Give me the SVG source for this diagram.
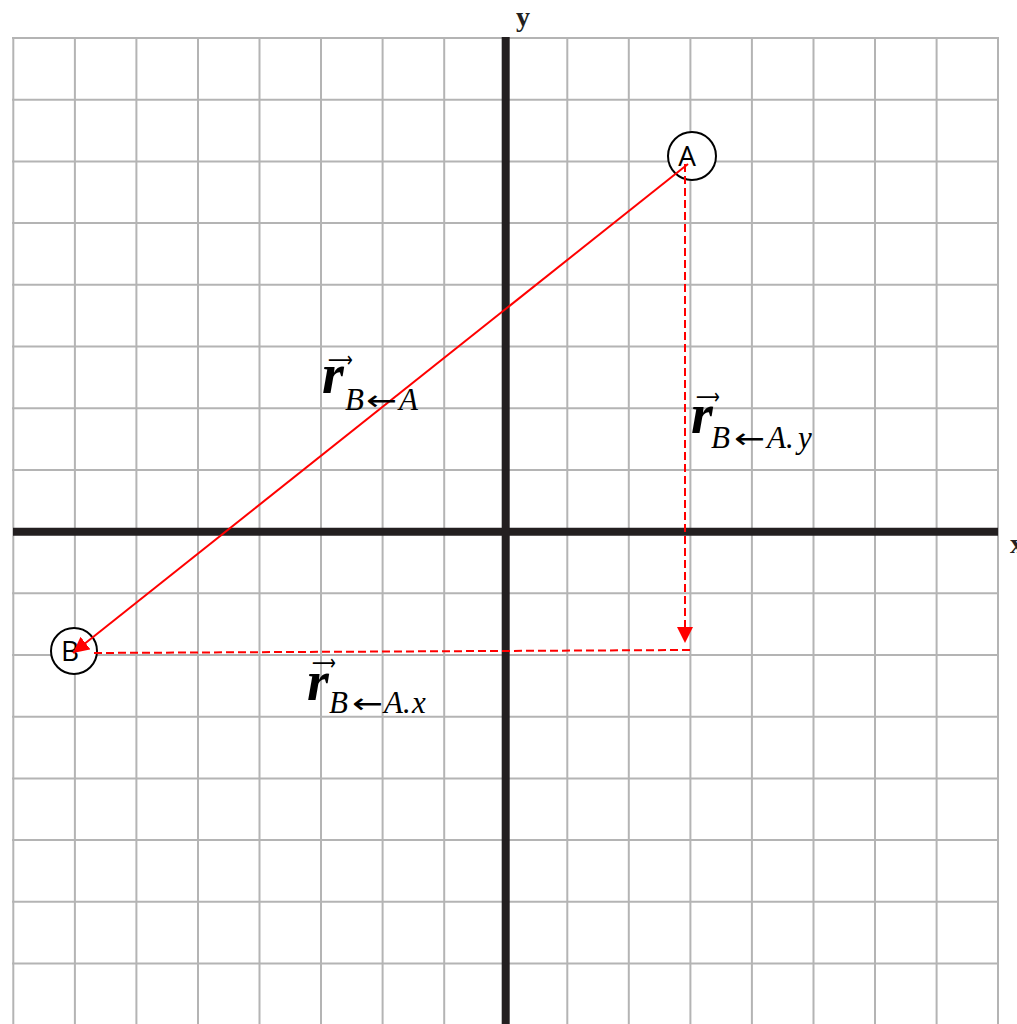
<svg xmlns="http://www.w3.org/2000/svg" width="1017" height="1024" viewBox="0 0 1017 1024">
<style>
.grid line{stroke:#b4b4b4;stroke-width:2}
.axis{stroke:#231f20;stroke-width:8}
.node circle{fill:#fff;stroke:#000;stroke-width:2}
.node text{font-family:"Open Sans","Liberation Sans",sans-serif;font-size:28px;fill:#000;text-anchor:middle}
.vec{stroke:#ff0000;stroke-width:2;fill:none}
.dash{stroke-dasharray:8 4}
.lbl{font-family:"Liberation Serif","DejaVu Serif",serif;fill:#000}
.r{font-size:56px;font-style:italic;font-weight:bold}
.sub{font-size:31px;font-style:italic}
.arr{font-family:"DejaVu Sans",sans-serif;font-size:28px}
.acc{font-size:22px;font-family:"DejaVu Sans",sans-serif}
.ax{font-family:"Liberation Serif","DejaVu Serif",serif;font-weight:bold;font-size:28px;fill:#231f20}
</style>
<defs>
<marker id="ah" markerUnits="userSpaceOnUse" markerWidth="17" markerHeight="16" refX="16" refY="8" orient="auto">
<path d="M0,0 L16,8 L0,16 z" fill="#ff0000"/>
</marker>
</defs>
<rect width="1017" height="1024" fill="#fff"/>
<g id="grid" class="grid">
<line x1="13.3" y1="37" x2="13.3" y2="1024"/>
<line x1="74.9" y1="37" x2="74.9" y2="1024"/>
<line x1="136.4" y1="37" x2="136.4" y2="1024"/>
<line x1="198" y1="37" x2="198" y2="1024"/>
<line x1="259.5" y1="37" x2="259.5" y2="1024"/>
<line x1="321" y1="37" x2="321" y2="1024"/>
<line x1="382.6" y1="37" x2="382.6" y2="1024"/>
<line x1="444.2" y1="37" x2="444.2" y2="1024"/>
<line x1="567.3" y1="37" x2="567.3" y2="1024"/>
<line x1="628.8" y1="37" x2="628.8" y2="1024"/>
<line x1="690.4" y1="37" x2="690.4" y2="1024"/>
<line x1="751.9" y1="37" x2="751.9" y2="1024"/>
<line x1="813.5" y1="37" x2="813.5" y2="1024"/>
<line x1="875" y1="37" x2="875" y2="1024"/>
<line x1="936.6" y1="37" x2="936.6" y2="1024"/>
<line x1="998" y1="37" x2="998" y2="1024"/>
<line x1="12" y1="38" x2="999" y2="38"/>
<line x1="12" y1="99.7" x2="999" y2="99.7"/>
<line x1="12" y1="161.4" x2="999" y2="161.4"/>
<line x1="12" y1="223.1" x2="999" y2="223.1"/>
<line x1="12" y1="284.8" x2="999" y2="284.8"/>
<line x1="12" y1="346.5" x2="999" y2="346.5"/>
<line x1="12" y1="408.2" x2="999" y2="408.2"/>
<line x1="12" y1="469.9" x2="999" y2="469.9"/>
<line x1="12" y1="593.3" x2="999" y2="593.3"/>
<line x1="12" y1="655" x2="999" y2="655"/>
<line x1="12" y1="716.7" x2="999" y2="716.7"/>
<line x1="12" y1="778.4" x2="999" y2="778.4"/>
<line x1="12" y1="840.1" x2="999" y2="840.1"/>
<line x1="12" y1="901.8" x2="999" y2="901.8"/>
<line x1="12" y1="963.5" x2="999" y2="963.5"/>
</g>
<g id="axes">
<line class="axis" x1="13" y1="531.8" x2="998" y2="531.8"/>
<line class="axis" x1="505.7" y1="37" x2="505.7" y2="1024"/>
<text class="ax" x="523" y="26" text-anchor="middle">y</text>
<text class="ax" x="1010" y="553" font-size="24">x</text>
</g>
<g id="A" class="node">
<circle cx="692" cy="156" r="24"/>
<text x="687" y="166">A</text>
</g>
<g id="B" class="node">
<circle cx="74" cy="651" r="23"/>
<text x="70" y="661">B</text>
</g>
<g id="connectors">
<line class="vec" x1="688" y1="164" x2="73" y2="653" marker-end="url(#ah)"/>
<line class="vec dash" x1="685" y1="164" x2="685" y2="643" marker-end="url(#ah)"/>
<line class="vec dash" x1="690" y1="650" x2="92" y2="653"/>
</g>
<g id="labels" class="lbl">
<text class="acc" x="328" y="367" textLength="25" lengthAdjust="spacingAndGlyphs">⟶</text>
<text class="r" x="322" y="393">r</text>
<text class="sub" x="345" y="410">B</text>
<text class="arr" x="366" y="410" textLength="31" lengthAdjust="spacingAndGlyphs">←</text>
<text class="sub" x="399" y="410">A</text>
<text class="acc" x="696" y="404" textLength="24" lengthAdjust="spacingAndGlyphs">⟶</text>
<text class="r" x="691" y="433">r</text>
<text class="sub" x="711" y="448">B</text>
<text class="arr" x="734" y="448" textLength="31" lengthAdjust="spacingAndGlyphs">←</text>
<text class="sub" x="767" y="448">A.<tspan x="798">y</tspan></text>
<text class="acc" x="312" y="670" textLength="24" lengthAdjust="spacingAndGlyphs">⟶</text>
<text class="r" x="307" y="700">r</text>
<text class="sub" x="329" y="713">B</text>
<text class="arr" x="352" y="713" textLength="31" lengthAdjust="spacingAndGlyphs">←</text>
<text class="sub" x="384" y="713">A.<tspan x="412">x</tspan></text>
</g>
</svg>
